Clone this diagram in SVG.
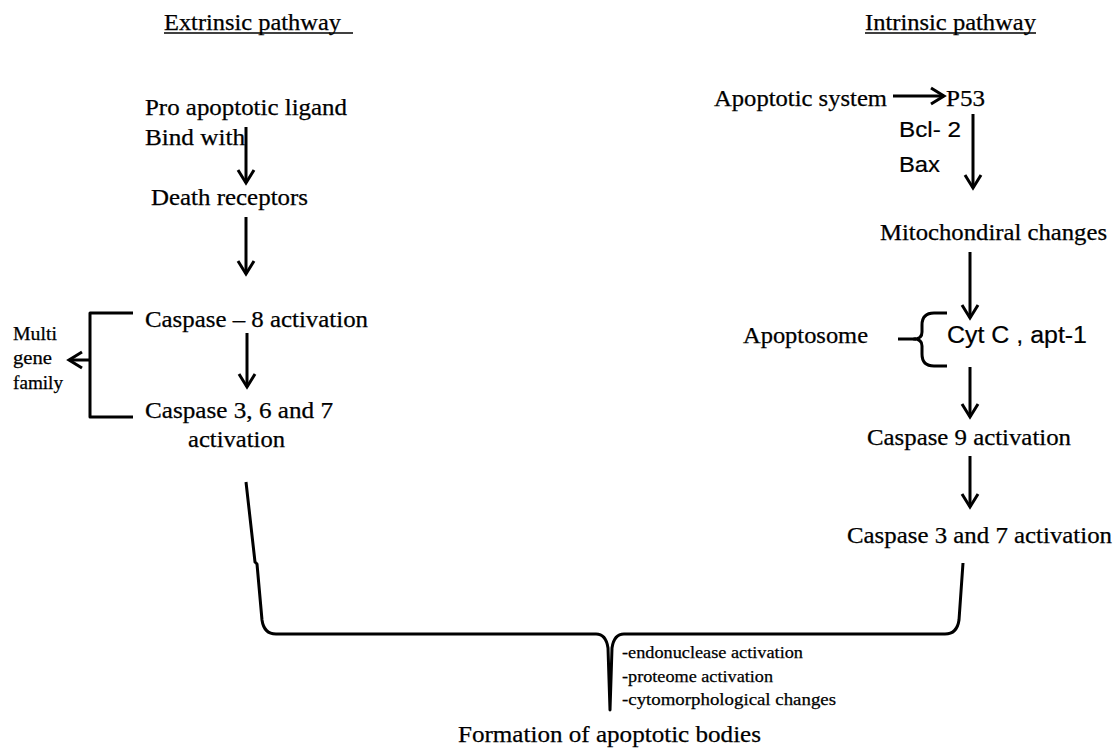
<svg xmlns="http://www.w3.org/2000/svg" width="1118" height="749" viewBox="0 0 1118 749">
<defs>
<style>
.s{font-family:"Liberation Serif","Times New Roman",serif;fill:#000;stroke:#000;stroke-width:0.25}
.a{font-family:"Liberation Sans",Arial,sans-serif;fill:#000;stroke:#000;stroke-width:0.2}
.ln{stroke:#000;stroke-width:3;fill:none;stroke-linejoin:round}
.ar{stroke:#000;stroke-width:3;fill:none;marker-end:url(#ah)}
</style>
<marker id="ah" viewBox="-16 -11 20 22" markerWidth="20" markerHeight="22" refX="0" refY="0" orient="auto" markerUnits="userSpaceOnUse">
<path d="M-13,-8 L0,0 L-13,8" stroke="#000" stroke-width="3" fill="none" stroke-linejoin="miter"/>
</marker>
</defs>
<rect width="1118" height="749" fill="#fff"/>

<g id="header-extrinsic">
<text class="s" x="164" y="30" font-size="23" textLength="177" lengthAdjust="spacingAndGlyphs">Extrinsic pathway</text>
<line x1="164" y1="33" x2="353" y2="33" stroke="#000" stroke-width="1.3"/>
</g>
<g id="header-intrinsic">
<text class="s" x="865" y="30" font-size="23" textLength="171" lengthAdjust="spacingAndGlyphs">Intrinsic pathway</text>
<line x1="865" y1="33" x2="1036" y2="33" stroke="#000" stroke-width="1.3"/>
</g>

<g id="node-ligand">
<text class="s" x="145" y="115" font-size="23" textLength="202" lengthAdjust="spacingAndGlyphs">Pro apoptotic ligand</text>
<text class="s" x="145" y="145" font-size="23" textLength="100" lengthAdjust="spacingAndGlyphs">Bind with</text>
</g>
<g id="node-death-receptors">
<text class="s" x="151" y="205" font-size="23" textLength="157" lengthAdjust="spacingAndGlyphs">Death receptors</text>
</g>
<g id="node-caspase8">
<text class="s" x="145" y="327" font-size="23" textLength="223" lengthAdjust="spacingAndGlyphs">Caspase – 8 activation</text>
</g>
<g id="node-caspase367">
<text class="s" x="145" y="418" font-size="23" textLength="188" lengthAdjust="spacingAndGlyphs">Caspase 3, 6 and 7</text>
<text class="s" x="188" y="447" font-size="23" textLength="97" lengthAdjust="spacingAndGlyphs">activation</text>
</g>
<g id="node-multigene">
<text class="s" x="13" y="340" font-size="18" textLength="44" lengthAdjust="spacingAndGlyphs">Multi</text>
<text class="s" x="13" y="364" font-size="18" textLength="39" lengthAdjust="spacingAndGlyphs">gene</text>
<text class="s" x="13" y="389" font-size="18" textLength="50" lengthAdjust="spacingAndGlyphs">family</text>
</g>

<g id="node-apoptotic-system">
<text class="s" x="714" y="106" font-size="23" textLength="173" lengthAdjust="spacingAndGlyphs">Apoptotic system</text>
</g>
<g id="node-p53">
<text class="s" x="946" y="106" font-size="23" textLength="39" lengthAdjust="spacingAndGlyphs">P53</text>
</g>
<g id="node-bcl2">
<text class="a" x="899" y="137" font-size="22" textLength="62" lengthAdjust="spacingAndGlyphs">Bcl- 2</text>
<text class="a" x="899" y="172" font-size="22" textLength="41" lengthAdjust="spacingAndGlyphs">Bax</text>
</g>
<g id="node-mito">
<text class="s" x="880" y="240" font-size="23" textLength="227" lengthAdjust="spacingAndGlyphs">Mitochondiral changes</text>
</g>
<g id="node-apoptosome">
<text class="s" x="743" y="343" font-size="23" textLength="125" lengthAdjust="spacingAndGlyphs">Apoptosome</text>
</g>
<g id="node-cytc">
<text class="a" x="947" y="343" font-size="23" textLength="140" lengthAdjust="spacingAndGlyphs">Cyt C , apt-1</text>
</g>
<g id="node-caspase9">
<text class="s" x="867" y="445" font-size="23" textLength="204" lengthAdjust="spacingAndGlyphs">Caspase 9 activation</text>
</g>
<g id="node-caspase37">
<text class="s" x="847" y="543" font-size="23" textLength="265" lengthAdjust="spacingAndGlyphs">Caspase 3 and 7 activation</text>
</g>

<g id="node-effects">
<text class="s" x="622" y="658" font-size="17" textLength="181" lengthAdjust="spacingAndGlyphs">-endonuclease  activation</text>
<text class="s" x="622" y="682" font-size="17" textLength="151" lengthAdjust="spacingAndGlyphs">-proteome activation</text>
<text class="s" x="622" y="705" font-size="17" textLength="214" lengthAdjust="spacingAndGlyphs">-cytomorphological  changes</text>
</g>
<g id="node-formation">
<text class="s" x="458" y="742" font-size="24" textLength="303" lengthAdjust="spacingAndGlyphs">Formation of apoptotic bodies</text>
</g>

<g id="connectors">
<line class="ar" x1="246" y1="127" x2="246" y2="183"/>
<line class="ar" x1="246" y1="217" x2="246" y2="274"/>
<line class="ar" x1="247" y1="333" x2="247" y2="387"/>
<path class="ln" d="M133,313 H90 V417 H133"/>
<line class="ar" x1="90" y1="360" x2="69" y2="360"/>

<line class="ar" x1="893" y1="96" x2="944" y2="96"/>
<line class="ar" x1="973" y1="114" x2="973" y2="188"/>
<line class="ar" x1="970" y1="252" x2="970" y2="318"/>
<path class="ln" d="M947,313 H934 Q922,313 922,325 V332 Q922,339 914,339 Q922,339 922,346 V354 Q922,366 934,366 H947"/>
<line class="ln" x1="898" y1="339" x2="916" y2="339"/>
<line class="ar" x1="970" y1="367" x2="970" y2="417"/>
<line class="ar" x1="970" y1="456" x2="970" y2="507"/>

<path class="ln" d="M246,482 L255,562 L257,564 L262,620 Q264,634 276,634 H596 Q606,634 608,648 L610,710 L612,648 Q614,634 624,634 H945 Q957,634 959,620 L963,563"/>
</g>
</svg>
